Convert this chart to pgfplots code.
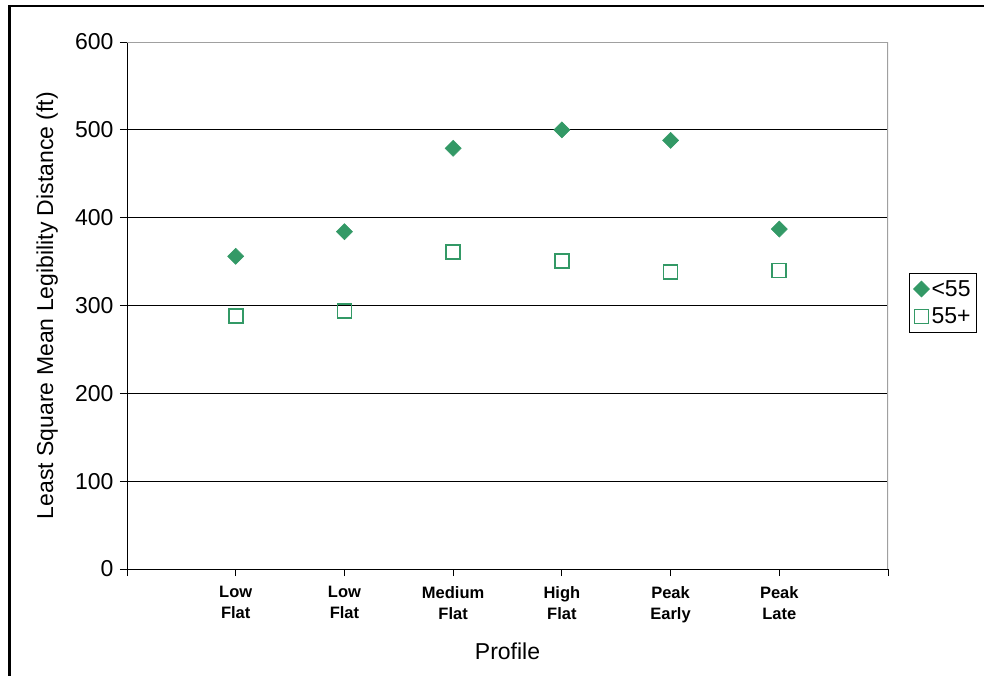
\documentclass[border=0pt]{standalone}
\usepackage{pgfplots}
\pgfplotsset{compat=1.18}
\usepackage{fontspec}
\setmainfont{Liberation Sans}
\definecolor{sgreen}{HTML}{339966}
\definecolor{bordergray}{HTML}{A0A0A0}
\begin{document}
\begin{tikzpicture}[x=1pt,y=1pt]
\useasboundingbox (0,0) rectangle (984,-676);
\draw[line width=2.5pt] (9.5,-676) -- (9.5,-6) -- (984,-6);
\begin{axis}[
  at={(127pt,-569pt)}, anchor=south west,
  scale only axis, width=761pt, height=527pt,
  xmin=0, xmax=7, ymin=0, ymax=600,
  axis x line*=bottom, axis y line*=left,
  axis line style={-, black, line width=1pt},
  xtick={0,1,2,3,4,5,6,7},
  xticklabels={,{Low\\Flat},{Low\\Flat},{Medium\\Flat},{High\\Flat},{Peak\\Early},{Peak\\Late},},
  xticklabel style={font=\bfseries\fontsize{16.5}{21}\selectfont, align=center, yshift=-7pt},
  ytick={0,100,200,300,400,500,600},
  yticklabel style={font=\fontsize{23}{26}\selectfont, xshift=-3pt},
  /pgf/number format/assume math mode=true,
  tick align=outside, major tick length=7pt,
  tick style={black, line width=1pt},
  ymajorgrids, major grid style={black, line width=1pt},
  xlabel={Profile}, ylabel={Least Square Mean Legibility Distance (ft)},
  label style={font=\fontsize{23}{26}\selectfont},
  xlabel style={at={(axis description cs:0.5,-0.156)}, anchor=center},
  ylabel style={at={(axis description cs:-0.105,0.5)}, anchor=center},
  legend style={at={(1.0276,0.5617)}, anchor=north west, draw=black, line width=0.8pt,
    font=\fontsize{23}{27}\selectfont, inner xsep=4pt, inner ysep=5pt, row sep=6pt,
    /tikz/every even column/.append style={column sep=0pt}},
  legend cell align=left,
  legend image code/.code={\draw[#1] plot coordinates {(0.25cm,0cm)};},
]
\addplot[only marks, mark=square*, mark size=5.7pt, mark options={rotate=45, fill=sgreen, draw=sgreen, line width=0.5pt}] coordinates {
(1,356) (2,384) (3,479) (4,500) (5,488) (6,387)};
\addlegendentry{<55}
\addplot[only marks, mark=square, mark size=7pt, mark options={draw=sgreen, fill=white, line width=1.6pt}] coordinates {
(1,288) (2,294) (3,361) (4,351) (5,338) (6,340)};
\addlegendentry{55+}
\draw[bordergray, line width=1.2pt] (rel axis cs:0,1) -- (rel axis cs:1,1) -- (rel axis cs:1,0);
\end{axis}
\end{tikzpicture}
\end{document}
